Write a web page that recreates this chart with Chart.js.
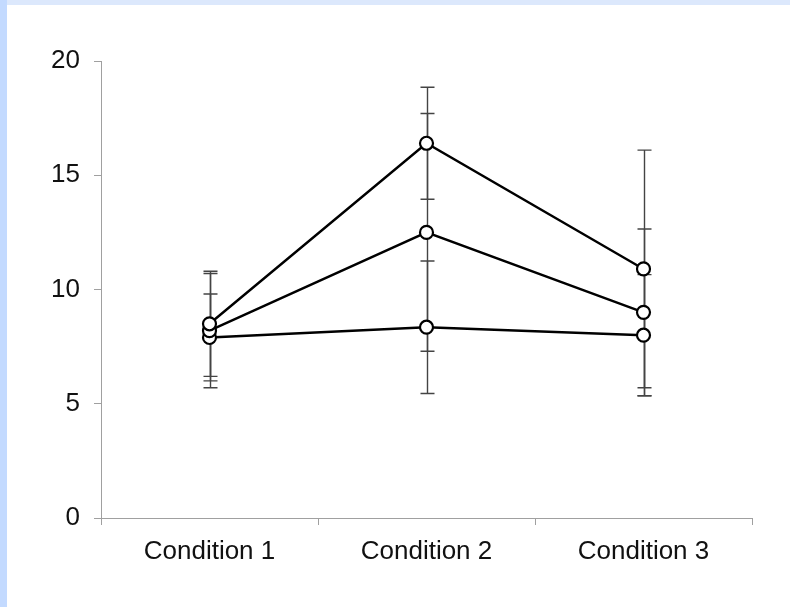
<!DOCTYPE html>
<html>
<head>
<meta charset="utf-8">
<script src="https://cdn.jsdelivr.net/npm/chart.js@4"></script>
<style>
  html, body { margin: 0; padding: 0; }
  body { width: 790px; height: 607px; background: #dce8fc; position: relative; overflow: hidden; }
  #leftband { position: absolute; left: 0; top: 0; width: 7px; height: 607px; background: #c3daff; }
  #panel { position: absolute; left: 7px; top: 5px; width: 783px; height: 602px; background: #ffffff; }
  #wrap { position: absolute; left: 0; top: 0; width: 790px; height: 607px; }
</style>
</head>
<body>
<div id="leftband"></div>
<div id="panel"></div>
<div id="wrap"><canvas id="c" width="790" height="607"></canvas></div>
<script>
// Category labels and tick values
const categories = ['Condition 1', 'Condition 2', 'Condition 3'];
const yTicks = [0, 5, 10, 15, 20];

// Means for the three series
const seriesHigh = [8.5, 16.4, 10.9];
const seriesMid = [8.2, 12.5, 9.0];
const seriesLow = [7.9, 8.35, 8.0];

// Symmetric error (+/-) for each mean
const errHigh = [2.3, 2.45, 5.2];
const errMid = [2.5, 5.2, 3.65];
const errLow = [1.9, 2.9, 2.65];

const errors = [errHigh, errMid, errLow];

const axisGrey = '#a0a0a0';
const fontFamily = "'Liberation Sans', Arial, sans-serif";

// Draws vertical error bars with caps underneath the lines and markers
const errorBars = {
  id: 'errorBars',
  beforeDatasetsDraw(chart) {
    const ctx = chart.ctx;
    const xs = chart.scales.x;
    const ys = chart.scales.y;
    ctx.save();
    ctx.strokeStyle = '#444444';
    ctx.lineWidth = 1.4;
    chart.data.datasets.forEach((ds, di) => {
      ds.data.forEach((v, i) => {
        const e = errors[di][i];
        const px = Math.round(xs.getPixelForValue(i)) + 0.5;
        const top = ys.getPixelForValue(v + e);
        const bot = ys.getPixelForValue(v - e);
        const half = 7;
        ctx.beginPath();
        ctx.moveTo(px, top);
        ctx.lineTo(px, bot);
        ctx.moveTo(px - half, top);
        ctx.lineTo(px + half, top);
        ctx.moveTo(px - half, bot);
        ctx.lineTo(px + half, bot);
        ctx.stroke();
      });
    });
    ctx.restore();
  }
};

function lineSeries(values) {
  return {
    data: values,
    borderColor: '#000000',
    borderWidth: 2.4,
    backgroundColor: '#ffffff',
    pointBackgroundColor: '#ffffff',
    pointBorderColor: '#000000',
    pointBorderWidth: 2.2,
    pointRadius: 6.5,
    tension: 0,
    fill: false
  };
}

new Chart(document.getElementById('c'), {
  type: 'line',
  data: {
    labels: categories,
    datasets: [lineSeries(seriesHigh), lineSeries(seriesMid), lineSeries(seriesLow)]
  },
  plugins: [errorBars],
  options: {
    responsive: false,
    animation: false,
    devicePixelRatio: 1,
    layout: { padding: { left: 0, top: 61, right: 38, bottom: 0 } },
    plugins: { legend: { display: false }, tooltip: { enabled: false } },
    scales: {
      x: {
        type: 'category',
        offset: true,
        afterFit(s) { s.height = 89; },
        grid: { offset: true, drawOnChartArea: false, tickLength: 7, color: axisGrey, lineWidth: 1 },
        border: { color: axisGrey, width: 1 },
        ticks: { color: '#111111', padding: 11, font: { family: fontFamily, size: 26 } }
      },
      y: {
        min: 0,
        max: 20,
        afterFit(s) { s.width = 101; },
        afterBuildTicks(s) { s.ticks = yTicks.map(v => ({ value: v })); },
        grid: { drawOnChartArea: false, tickLength: 7, color: axisGrey, lineWidth: 1 },
        border: { color: axisGrey, width: 1 },
        ticks: { color: '#111111', padding: 14, font: { family: fontFamily, size: 26 } }
      }
    }
  }
});
</script>
</body>
</html>
